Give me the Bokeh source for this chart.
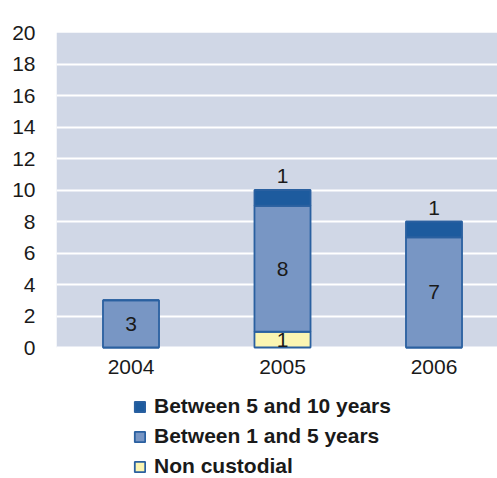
from bokeh.plotting import figure
from bokeh.models import (ColumnDataSource, Range1d, Legend, LegendItem,
                          LabelSet, FixedTicker, BoxAnnotation)
from bokeh.core.properties import value
from bokeh.embed import file_html
from bokeh.resources import INLINE

years = ["2004", "2005", "2006"]
non_custodial = [0, 1, 0]
between_1_5 = [3, 8, 7]
between_5_10 = [0, 1, 1]
series = ["non_custodial", "between_1_5", "between_5_10"]
series_labels = ["Non custodial", "Between 1 and 5 years", "Between 5 and 10 years"]
colors = ["#fbf5b2", "#7896c4", "#1d5b9e"]
y_ticks = [0, 2, 4, 6, 8, 10, 12, 14, 16, 18, 20]
y_max = 20

# layout: plot area 315px tall for 0..20, 131px of legend room below it
y_min = -131 / (315 / y_max)
# horizontal: categories 151.5px apart, first centred 74.5px into the 441px plot area
x_start = -74.5 / 151.5
x_end = x_start + 441 / 151.5

pos = list(range(len(years)))
src = ColumnDataSource(dict(x=pos, years=years, non_custodial=non_custodial,
                            between_1_5=between_1_5, between_5_10=between_5_10))

p = figure(x_range=Range1d(x_start, x_end), y_range=Range1d(y_min, y_max),
           width=497, height=478, output_backend="svg", toolbar_location=None,
           min_border_left=56, min_border_right=0, min_border_top=32, min_border_bottom=0)
p.background_fill_color = "white"
p.border_fill_color = "white"
p.outline_line_color = None

bg = BoxAnnotation(bottom=0, top=y_max, fill_color="#d0d7e6", fill_alpha=1,
                   line_color=None, level="underlay")
p.center = [bg] + list(p.center)

renderers = p.vbar_stack(series, x="x", width=0.37, source=src, color=colors,
                         line_color="#2a60a0", line_width=1.8)

# grid / axes
p.xgrid.grid_line_color = None
p.ygrid.grid_line_color = "white"
p.ygrid.grid_line_width = 2
p.yaxis.ticker = FixedTicker(ticks=y_ticks)
p.xaxis.visible = False
yax = p.yaxis[0]
yax.axis_line_color = None
yax.major_tick_line_color = None
yax.minor_tick_line_color = None
yax.major_label_text_font = "Liberation Sans"
yax.major_label_text_font_size = "21px"
yax.major_label_text_color = "#1a1a1a"
yax.major_label_standoff = 15

# category labels under the bars
csrc = ColumnDataSource(dict(x=pos, y=[0] * len(years), t=years))
p.add_layout(LabelSet(x="x", y="y", text="t", source=csrc, text_align="center",
                      text_baseline="top", y_offset=-12, text_font=value("Liberation Sans"),
                      text_font_size=value("21px"), text_color="#1a1a1a"))

# value labels
lx, ly, lt = [], [], []
for i in pos:
    base = 0
    for vals in (non_custodial, between_1_5):
        v = vals[i]
        if v:
            lx.append(i); ly.append(base + v / 2); lt.append(str(v))
        base += v
lsrc = ColumnDataSource(dict(x=lx, y=ly, t=lt))
p.add_layout(LabelSet(x="x", y="y", text="t", source=lsrc, text_align="center",
                      text_baseline="middle", text_font=value("Liberation Sans"),
                      text_font_size=value("21px"), text_color="#1a1a1a"))
tx, ty, tt = [], [], []
for i in pos:
    v = between_5_10[i]
    if v:
        tx.append(i); ty.append(non_custodial[i] + between_1_5[i] + v); tt.append(str(v))
tsrc = ColumnDataSource(dict(x=tx, y=ty, t=tt))
p.add_layout(LabelSet(x="x", y="y", text="t", source=tsrc, text_align="center",
                      text_baseline="alphabetic", y_offset=7, text_font=value("Liberation Sans"),
                      text_font_size=value("21px"), text_color="#1a1a1a"))

items = [LegendItem(label=series_labels[k], renderers=[renderers[k]]) for k in (2, 1, 0)]
legend = Legend(items=items, location=(77, 0), orientation="vertical",
                background_fill_alpha=0, border_line_color=None,
                label_text_font="Liberation Sans", label_text_font_style="bold",
                label_text_font_size="21px", label_text_color="#1a1a1a",
                glyph_width=13, glyph_height=13, label_height=24, spacing=6,
                label_standoff=8, padding=0, margin=0)
p.add_layout(legend, "center")

open("out.html", "w").write(file_html(p, INLINE))
